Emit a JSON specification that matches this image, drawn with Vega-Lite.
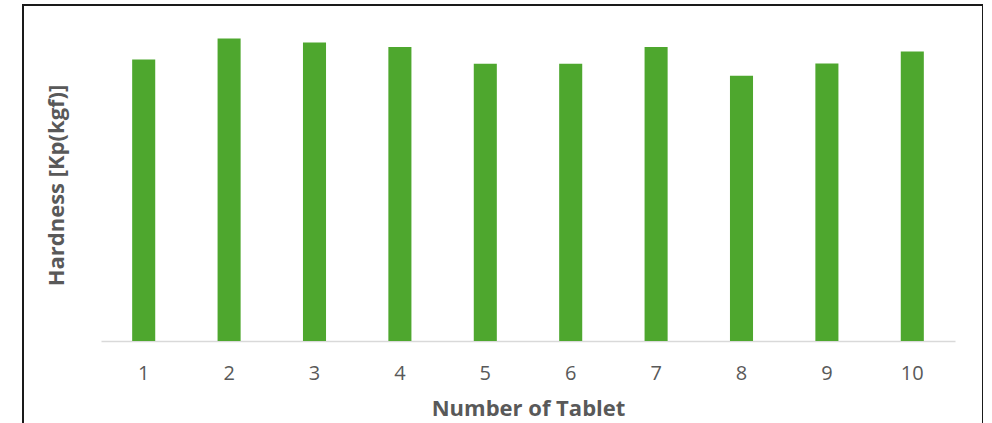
{
  "$schema": "https://vega.github.io/schema/vega-lite/v6.json",
  "width": 960,
  "height": 420,
  "autosize": {"type": "none"},
  "padding": {"left": 23, "top": 5, "right": 0, "bottom": 0},
  "background": "white",
  "config": {
    "view": {"stroke": "#1a1a1a", "strokeWidth": 2},
    "font": "Open Sans"
  },
  "data": {
    "values": [
      {"tablet": "1", "hardness": 7.04},
      {"tablet": "2", "hardness": 7.56},
      {"tablet": "3", "hardness": 7.46},
      {"tablet": "4", "hardness": 7.35},
      {"tablet": "5", "hardness": 6.93},
      {"tablet": "6", "hardness": 6.93},
      {"tablet": "7", "hardness": 7.35},
      {"tablet": "8", "hardness": 6.63},
      {"tablet": "9", "hardness": 6.94},
      {"tablet": "10", "hardness": 7.24}
    ]
  },
  "mark": {"type": "bar", "color": "#4EA72E"},
  "encoding": {
    "x": {
      "field": "tablet",
      "type": "ordinal",
      "sort": null,
      "scale": {"range": [78, 932], "paddingInner": 0.73, "paddingOuter": 0.365},
      "axis": {
        "title": "Number of Tablet",
        "orient": "bottom",
        "offset": -84,
        "labelAngle": 0,
        "domainColor": "#d9d9d9",
        "domainWidth": 1.5,
        "ticks": false,
        "labelPadding": 22,
        "labelFontSize": 20,
        "labelColor": "#595959",
        "labelFont": "Open Sans",
        "titleFont": "Open Sans",
        "titleFontSize": 22,
        "titleFontWeight": "bold",
        "titleColor": "#595959",
        "titleBaseline": "alphabetic",
        "titleY": 74
      }
    },
    "y": {
      "field": "hardness",
      "type": "quantitative",
      "scale": {"domain": [0, 8.4], "range": [336, 0], "nice": false},
      "axis": {
        "title": "Hardness [Kp(kgf)]",
        "labels": false,
        "ticks": false,
        "domain": false,
        "grid": false,
        "titleFont": "Open Sans",
        "titleFontSize": 22,
        "titleFontWeight": "bold",
        "titleColor": "#595959",
        "titleAngle": -90,
        "titleAlign": "center",
        "titleBaseline": "alphabetic",
        "titleX": 40,
        "titleY": 180
      }
    }
  }
}
